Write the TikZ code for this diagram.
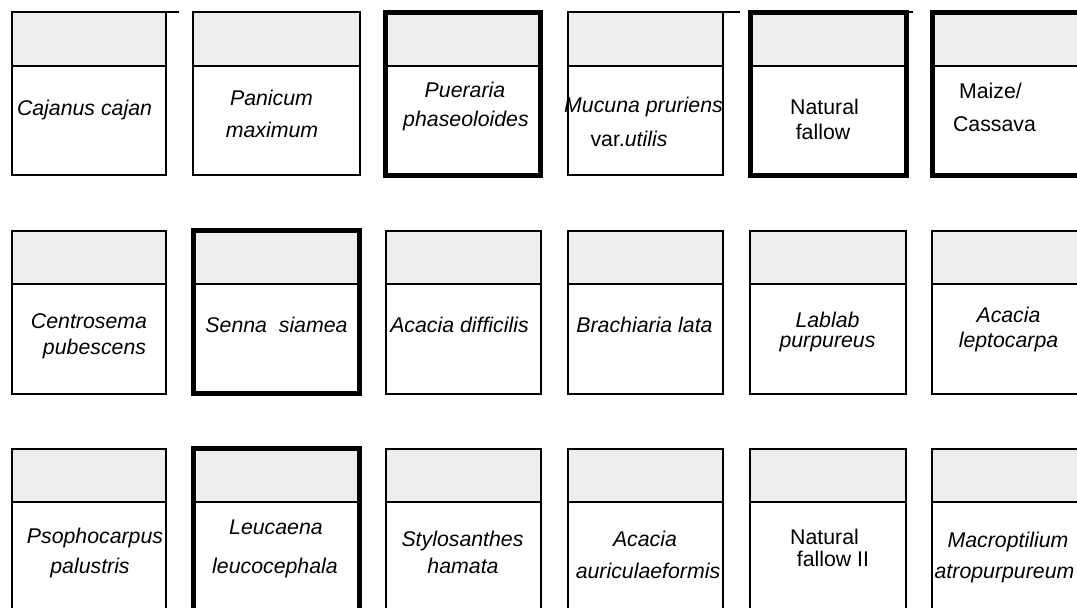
\documentclass[tikz,border=0pt]{standalone}
\usepackage{fontspec}
\setmainfont{Liberation Sans}
\usepackage{xcolor}

\definecolor{hdrgray}{RGB}{238,238,238}

\tikzset{
  lbl/.style={font=\fontsize{21.3}{24}\selectfont\itshape, inner sep=0pt, anchor=base},
  lblup/.style={font=\fontsize{21.3}{24}\selectfont, inner sep=0pt, anchor=base},
  stray/.style={line width=1.5pt}
}

\begin{document}
\begin{tikzpicture}[x=1pt, y=-1pt]
  \useasboundingbox (0,0) rectangle (1077,608);
  \clip (0,0) rectangle (1077,608);

  % Row 1 (left, right, border width)
  \foreach \xl/\xr/\lw in {12/166/2, 193/359.5/2, 385.5/540.5/5, 568/723/2, 750/906/5, 932/1087/5} {
    \fill[hdrgray] (\xl,12) rectangle (\xr,66);
    \draw[line width=2pt] (\xl,66) -- (\xr,66);
    \draw[line width=\lw pt] (\xl,12) rectangle (\xr,175);
  }
  % loose bits of line along the top
  \draw[stray] (123,12) -- (179,12);
  \draw[stray] (677,12) -- (740,12);
  \draw[stray] (900,12) -- (913,12);

  % Row 2
  \foreach \xl/\xr/\lw in {12/166/2, 193/359.5/5, 385.5/540.5/2, 568/723/2, 750/905.5/2, 932/1087/2} {
    \fill[hdrgray] (\xl,230.5) rectangle (\xr,284);
    \draw[line width=2pt] (\xl,284) -- (\xr,284);
    \draw[line width=\lw pt] (\xl,230.5) rectangle (\xr,393.5);
  }

  % Row 3 (runs off the bottom)
  \foreach \xl/\xr/\lw in {12/166/2, 193/359.5/5, 385.5/540.5/2, 568/723/2, 750/905.5/2, 932/1087/2} {
    \fill[hdrgray] (\xl,448.5) rectangle (\xr,502);
    \draw[line width=2pt] (\xl,502) -- (\xr,502);
    \draw[line width=\lw pt] (\xl,448.5) rectangle (\xr,612);
  }

  % Labels, row 1
  \node[lbl] (cajanus) at (84.5,115) {Cajanus cajan};
  \node[lbl] (panicumA) at (271.5,105) {Panicum};
  \node[lbl] (panicumB) at (272,137) {maximum};
  \node[lbl] (puerariaA) at (465,97) {Pueraria};
  \node[lbl] (puerariaB) at (466,126) {phaseoloides};
  \node[lbl] (mucunaA) at (643.5,112) {Mucuna pruriens};
  \node[lblup] (mucunaB) at (629,146) {var.\textit{utilis}};
  \node[lblup] (fallowA) at (824.5,114) {Natural};
  \node[lblup] (fallowB) at (823,139) {fallow};
  \node[lblup] (maizeA) at (990.5,98) {Maize/};
  \node[lblup] (maizeB) at (994.5,131) {Cassava};

  % Labels, row 2
  \node[lbl] (centrosemaA) at (89,328) {Centrosema};
  \node[lbl] (centrosemaB) at (94.5,354) {pubescens};
  \node[lbl] (senna) at (276.5,332) {Senna\ \ siamea};
  \node[lbl] (difficilis) at (459.5,332) {Acacia difficilis};
  \node[lbl] (brachiaria) at (644.5,332) {Brachiaria lata};
  % tight two-line label, set as one text (base = last line)
  \node[lbl, align=center, font=\fontsize{21.3}{19.5}\selectfont\itshape] (lablab) at (827.5,347) {Lablab\\purpureus};
  \node[lbl] (leptoA) at (1008.5,322) {Acacia};
  \node[lbl] (leptoB) at (1008.5,347) {leptocarpa};

  % Labels, row 3
  \node[lbl] (psophoA) at (95,543) {Psophocarpus};
  \node[lbl] (psophoB) at (90,573) {palustris};
  \node[lbl] (leucaenaA) at (276,534) {Leucaena};
  \node[lbl] (leucaenaB) at (275,573) {leucocephala};
  \node[lbl] (styloA) at (462.5,546) {Stylosanthes};
  \node[lbl] (styloB) at (463,573) {hamata};
  \node[lbl] (auricA) at (645,546) {Acacia};
  \node[lbl] (auricB) at (648,578) {auriculaeformis};
  \node[lblup] (fallowIIA) at (824.5,544) {Natural};
  \node[lblup] (fallowIIB) at (833,566) {fallow II};
  \node[lbl] (macroA) at (1008,547.5) {Macroptilium};
  \node[lbl] (macroB) at (1004.5,578) {atropurpureum};
\end{tikzpicture}
\end{document}
